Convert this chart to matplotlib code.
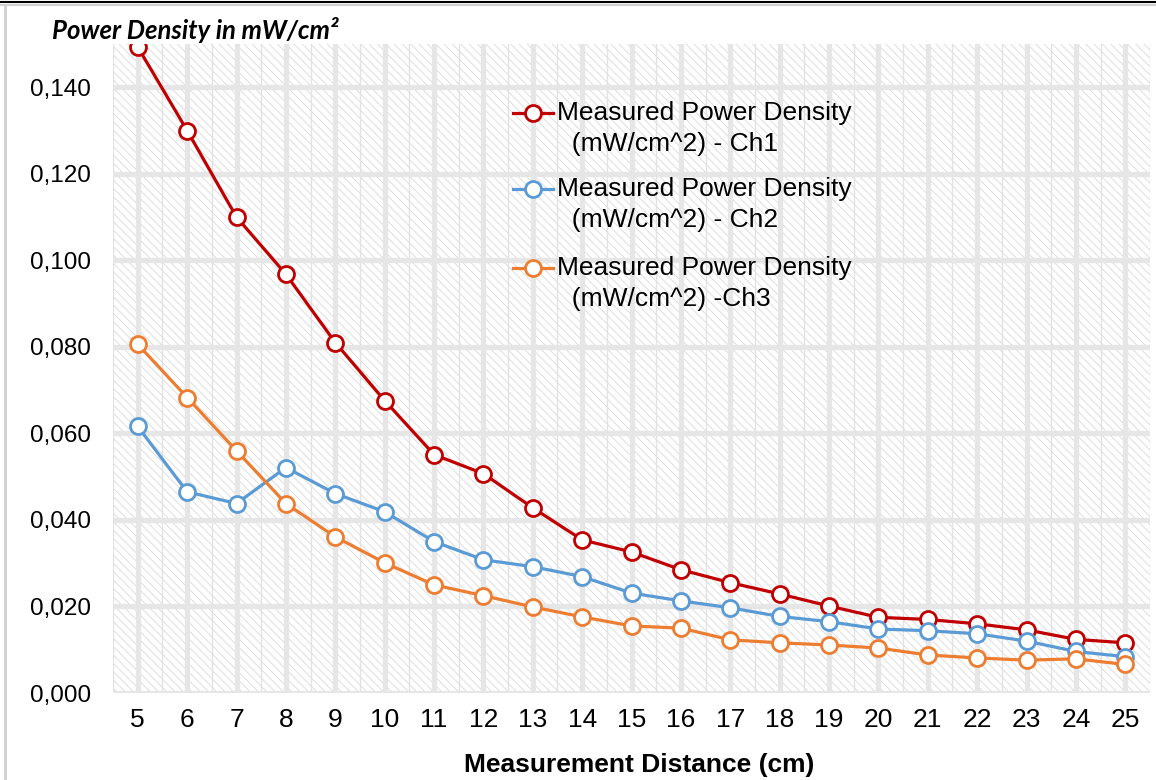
import numpy as np
import matplotlib.pyplot as plt
from matplotlib.patches import Rectangle
from matplotlib.lines import Line2D
from matplotlib.ticker import FuncFormatter, MultipleLocator

# measurement distances (cm)
distance = np.arange(5, 26)

# measured power density (mW/cm^2)
ch1 = [0.1493, 0.1300, 0.1100, 0.0968, 0.0810, 0.0676, 0.0551, 0.0507, 0.0428, 0.0354, 0.0326,
       0.0285, 0.0255, 0.0229, 0.0201, 0.0175, 0.0170, 0.0160, 0.0146, 0.0124, 0.0116]
ch2 = [0.0616, 0.0465, 0.0438, 0.0521, 0.0461, 0.0419, 0.0350, 0.0308, 0.0292, 0.0269, 0.0231,
       0.0213, 0.0197, 0.0177, 0.0165, 0.0148, 0.0144, 0.0137, 0.0120, 0.0096, 0.0084]
ch3 = [0.0806, 0.0683, 0.0560, 0.0438, 0.0361, 0.0301, 0.0250, 0.0225, 0.0199, 0.0176, 0.0155,
       0.0150, 0.0123, 0.0116, 0.0111, 0.0104, 0.0088, 0.0081, 0.0076, 0.0079, 0.0066]

labels = ["Measured Power Density\n  (mW/cm^2) - Ch1",
          "Measured Power Density\n  (mW/cm^2) - Ch2",
          "Measured Power Density\n  (mW/cm^2) -Ch3"]
colors = ["#c00000", "#5b9bd5", "#ed7d31"]

plt.rcParams['font.family'] = ['Liberation Sans', 'DejaVu Sans']
plt.rcParams['hatch.linewidth'] = 0.6
plt.rcParams['hatch.color'] = '#d9d9d9'

fig = plt.figure(figsize=(11.56, 7.80), dpi=100)
ax = fig.add_axes([0.0978, 0.1115, 0.8970, 0.8321])

# hatched plot area background
ax.add_patch(Rectangle((0, 0), 1, 1, transform=ax.transAxes, facecolor='white',
                       edgecolor='#d9d9d9', hatch='\\\\\\\\', linewidth=0, zorder=0.1))

for vals, col in zip([ch1, ch2, ch3], colors):
    ax.plot(distance, vals, color=col, lw=2.3, marker='o', ms=11.5, mfc='white',
            mec=col, mew=2.0, zorder=3)

ax.set_xlim(4.5, 25.5)
ax.set_ylim(0, 0.15)
ax.set_xticks(distance)
ax.xaxis.set_minor_locator(MultipleLocator(1, offset=0.5))
ax.yaxis.set_major_locator(MultipleLocator(0.02))
ax.yaxis.set_major_formatter(FuncFormatter(lambda v, p: f"{v:.3f}".replace('.', ',')))
ax.set_axisbelow(True)
ax.grid(which='major', color='#e6e6e6', lw=3.8)
ax.grid(which='minor', axis='x', color='#e2e2e2', lw=1.0)
ax.tick_params(which='both', length=0, colors='black')
ax.tick_params(axis='x', labelsize=19, pad=11)
ax.tick_params(axis='y', labelsize=17.5, pad=16)
for s in ax.spines.values():
    s.set_visible(False)

ax.set_xlabel("Measurement Distance (cm)", fontsize=19, fontweight='bold')
ax.xaxis.set_label_coords(0.507, -0.093)
fig.text(0.045, 0.961, "Power Density in mW/cm²", fontsize=18.5, fontweight='bold',
         fontstyle='italic', family=['Lato', 'DejaVu Sans'], va='center', ha='left')

# legend: marker beside the first line of each two-line label
leg_y = [0.894, 0.777, 0.655]
for lab, col, y in zip(labels, colors, leg_y):
    ax.add_artist(Line2D([0.386, 0.424], [y, y], transform=ax.transAxes, color=col, lw=2.3,
                         zorder=4))
    ax.add_artist(Line2D([0.405], [y], transform=ax.transAxes, color=col, marker='o', ms=11.5,
                         mfc='white', mec=col, mew=2.0, zorder=5))
    ax.text(0.428, y + 0.018, lab, transform=ax.transAxes, fontsize=19, va='top', ha='left',
            linespacing=1.38, zorder=5)

# outer frame
fig.add_artist(Line2D([0, 1], [0.998, 0.998], color='black', lw=1.5, transform=fig.transFigure))
fig.add_artist(Line2D([0, 1], [0.994, 0.994], color='#d0d0d0', lw=1.5, transform=fig.transFigure))
fig.add_artist(Line2D([0.004, 0.004], [0, 0.994], color='#d0d0d0', lw=2, transform=fig.transFigure))

fig.savefig("out.png", dpi=100)
